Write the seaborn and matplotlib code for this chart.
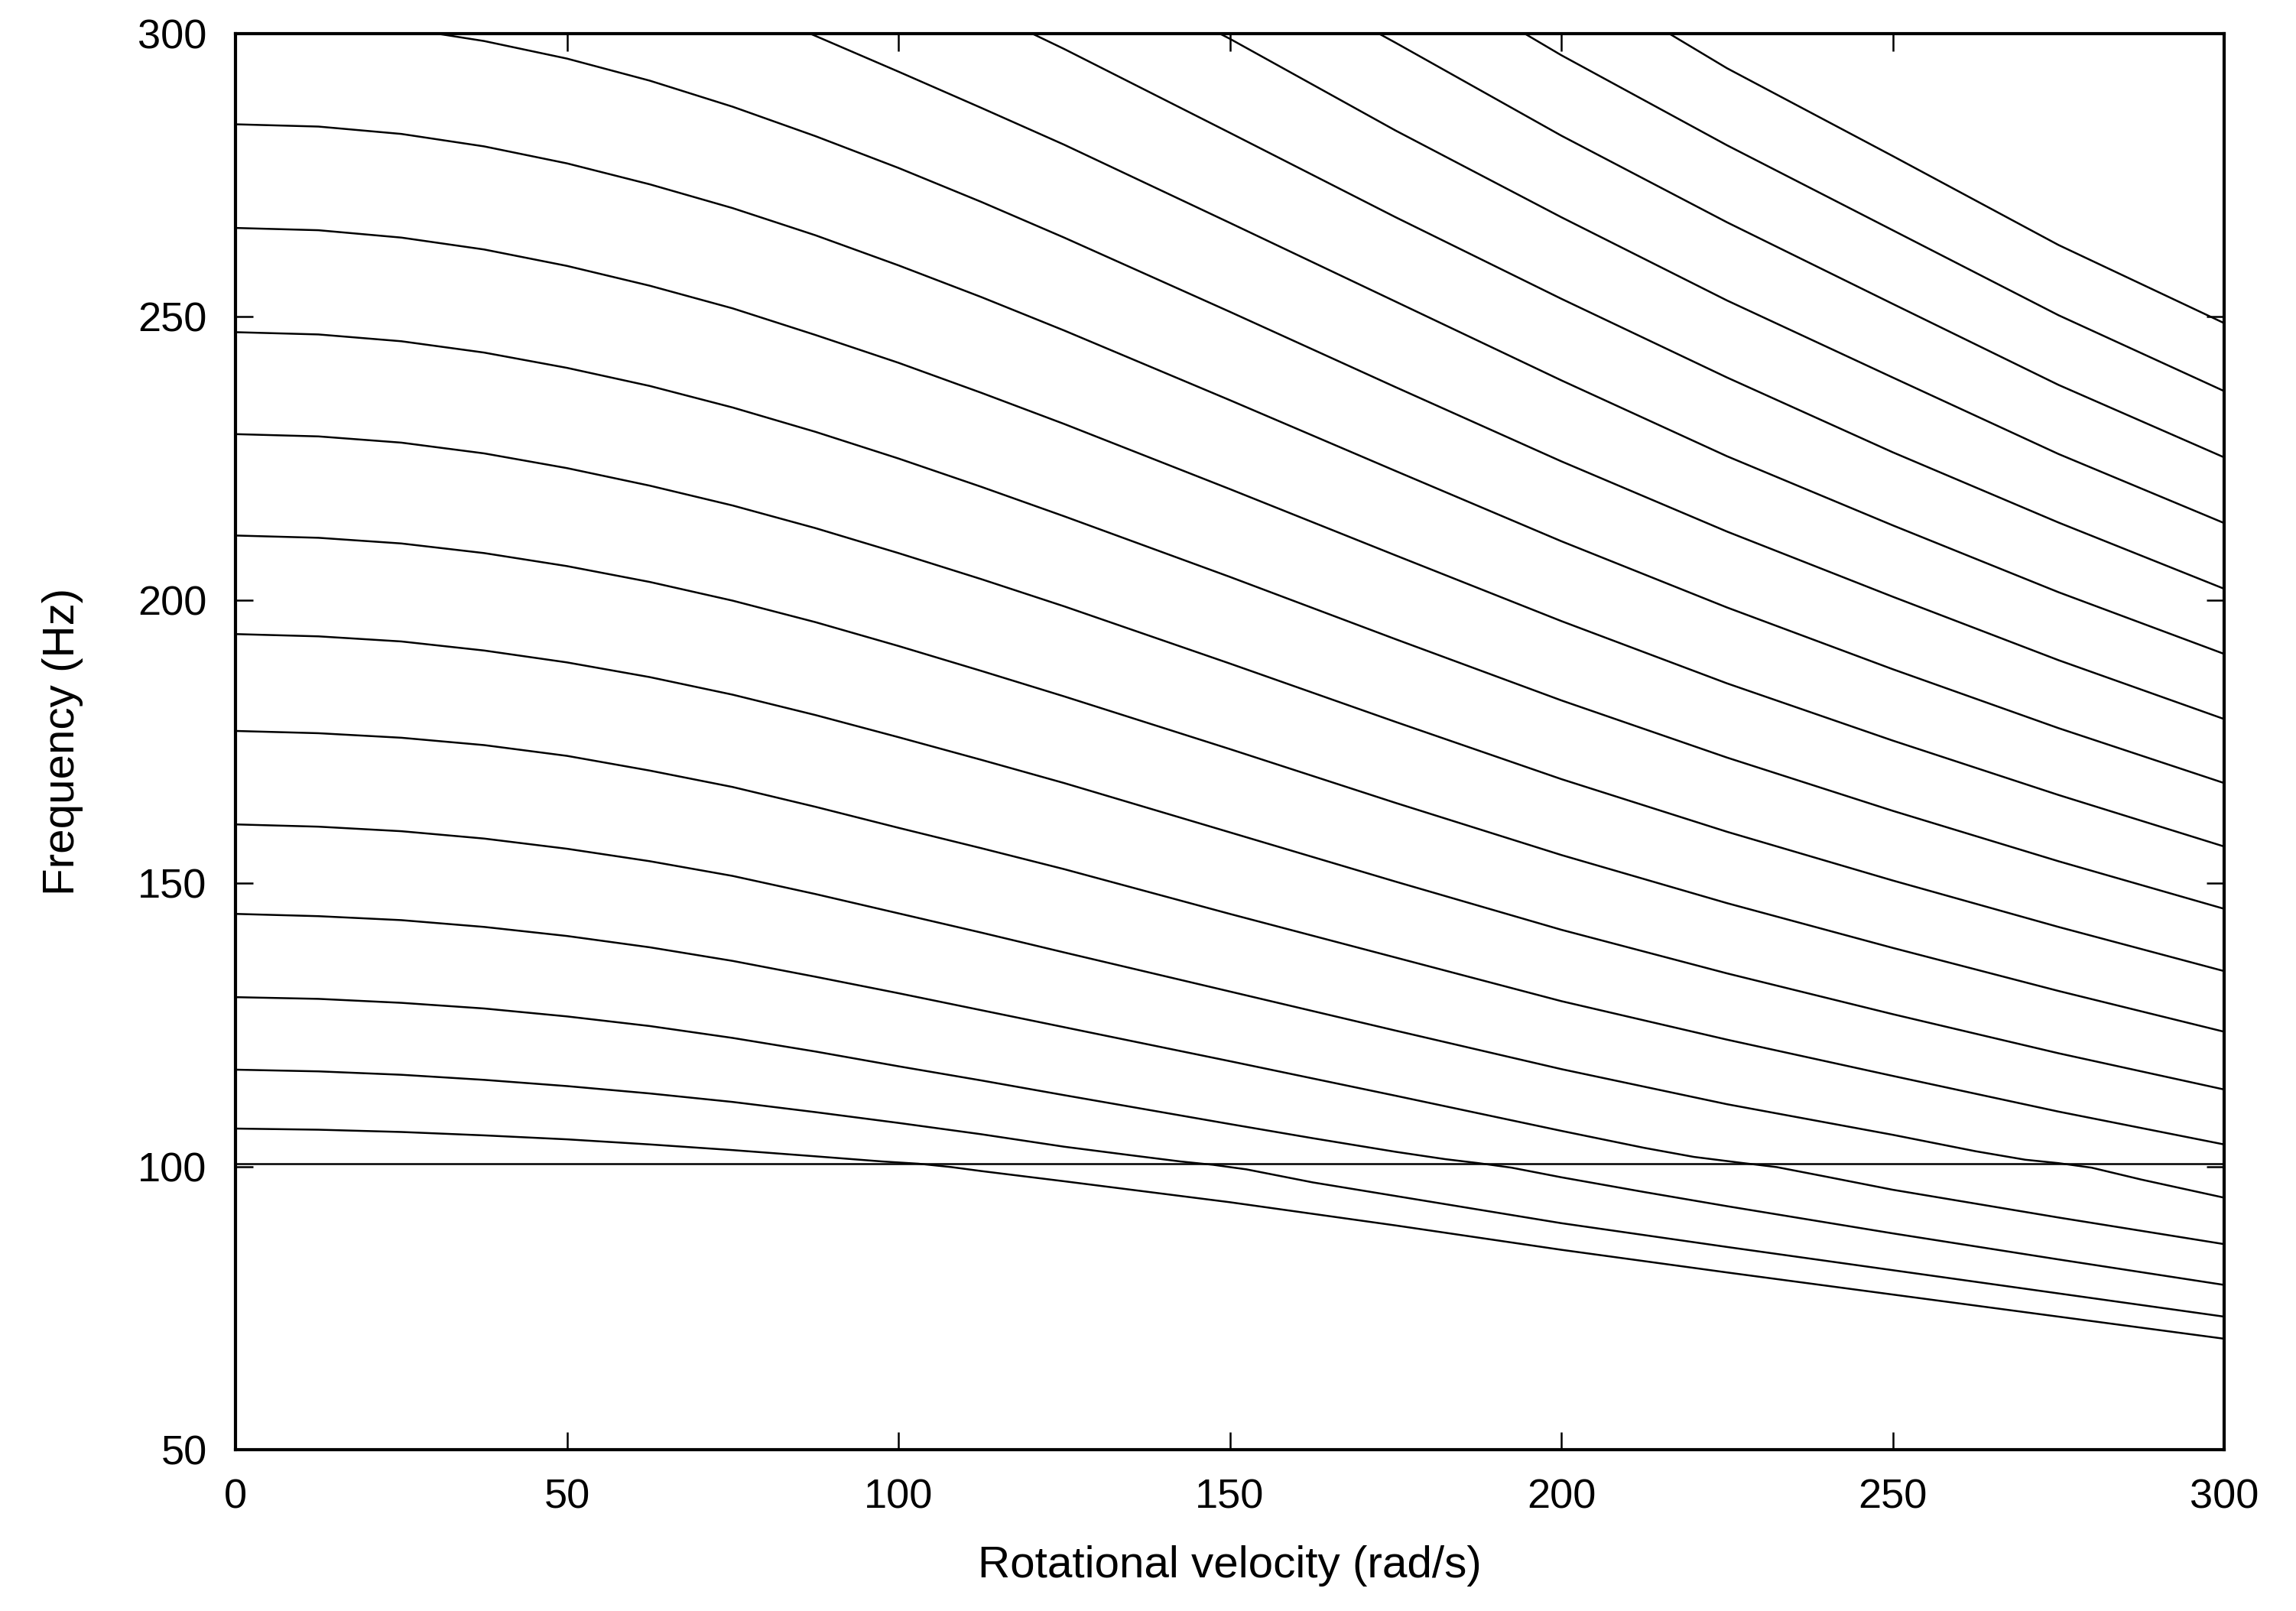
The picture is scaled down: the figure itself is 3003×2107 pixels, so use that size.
import pandas as pd
import seaborn as sns
import matplotlib.pyplot as plt

# Rotational velocity grid (rad/s) shared by the smooth modes
omega = [0, 12.5, 25, 37.5, 50, 62.5, 75, 87.5, 100, 112.5, 125,
         150, 175, 200, 225, 250, 275, 300]

# Stationary mode (flat line)
flat_x = [0, 300]
flat_f = [100.5, 100.5]

# Modes that cross the flat line (extra points near the crossing)
mode_a_x = [0, 12.5, 25, 37.5, 50, 62.5, 75, 87.5, 97.5, 103, 108, 112.5,
            125, 150, 175, 200, 225, 250, 275, 300]
mode_a_f = [106.7, 106.5, 106.1, 105.5, 104.8, 103.9, 102.9, 101.8, 100.9, 100.5, 99.9, 99.2,
            97.4, 93.7, 89.6, 85.3, 81.3, 77.4, 73.5, 69.6]
mode_b_x = [0, 12.5, 25, 37.5, 50, 62.5, 75, 87.5, 100, 112.5, 125, 135, 142.5,
            147.5, 152.5, 162.5, 175, 200, 225, 250, 275, 300]
mode_b_f = [117.1, 116.8, 116.2, 115.3, 114.2, 112.9, 111.4, 109.6, 107.7, 105.7, 103.5, 102.0, 100.9,
            100.3, 99.5, 97.2, 94.8, 90.0, 85.8, 81.7, 77.6, 73.5]
mode_c_x = [0, 12.5, 25, 37.5, 50, 62.5, 75, 87.5, 100, 112.5, 125, 150, 162.5,
            175, 182.5, 187.5, 192.5, 200, 212.5, 225, 250, 275, 300]
mode_c_f = [129.9, 129.6, 128.9, 127.9, 126.5, 124.8, 122.7, 120.3, 117.7, 115.2, 112.6, 107.5, 105.0,
            102.6, 101.3, 100.6, 99.8, 98.1, 95.5, 93.0, 88.2, 83.6, 79.1]
mode_d_x = [0, 12.5, 25, 37.5, 50, 62.5, 75, 87.5, 100, 112.5, 125, 150, 175,
            200, 212.5, 220, 227.5, 232.5, 240, 250, 275, 300]
mode_d_f = [144.6, 144.2, 143.5, 142.3, 140.7, 138.7, 136.3, 133.5, 130.6, 127.6, 124.6, 118.6, 112.5,
            106.3, 103.3, 101.7, 100.6, 99.9, 98.2, 95.9, 91.0, 86.3]
mode_e_x = [0, 12.5, 25, 37.5, 50, 62.5, 75, 87.5, 100, 112.5, 125, 150, 175,
            200, 225, 250, 262.5, 270, 275, 280, 287.5, 300]
mode_e_f = [160.4, 160.0, 159.2, 157.9, 156.1, 153.9, 151.3, 148.1, 144.7, 141.3, 137.8, 130.9, 124.0,
            117.2, 111.0, 105.6, 102.7, 101.2, 100.6, 99.8, 97.7, 94.5]

# Modes on the common grid
mode_f = [176.9, 176.5, 175.7, 174.4, 172.5, 169.9, 167.0, 163.5, 159.8, 156.2, 152.5,
          144.6, 136.9, 129.2, 122.4, 116.0, 109.7, 103.9]
mode_g = [194.0, 193.6, 192.7, 191.1, 189.0, 186.4, 183.3, 179.7, 175.8, 171.8, 167.7,
          159.0, 150.3, 141.8, 134.1, 126.9, 120.0, 113.6]
mode_h = [211.4, 211.0, 210.0, 208.3, 206.0, 203.2, 199.9, 196.1, 191.9, 187.5, 183.0,
          173.7, 164.2, 155.0, 146.5, 138.6, 131.0, 123.8]
mode_i = [229.3, 228.9, 227.8, 225.9, 223.3, 220.2, 216.7, 212.7, 208.3, 203.7, 198.9,
          188.8, 178.5, 168.4, 159.1, 150.5, 142.3, 134.5]
mode_j = [247.3, 246.9, 245.7, 243.7, 241.0, 237.8, 234.0, 229.7, 225.0, 220.0, 214.8,
          204.1, 193.1, 182.3, 172.2, 162.8, 153.9, 145.5]
mode_k = [265.7, 265.3, 264.0, 261.9, 259.0, 255.5, 251.5, 246.8, 241.9, 236.6, 231.1,
          219.6, 207.9, 196.3, 185.3, 175.2, 165.6, 156.5]
mode_l = [284.0, 283.6, 282.3, 280.1, 277.1, 273.4, 269.2, 264.4, 259.1, 253.5, 247.6,
          235.3, 222.8, 210.4, 198.7, 187.8, 177.4, 167.7]
mode_m = [302.8, 302.4, 301.0, 298.7, 295.6, 291.7, 287.1, 281.9, 276.3, 270.3, 264.0,
          250.9, 237.6, 224.5, 212.1, 200.6, 189.4, 179.0]

# Modes entering from the top of the plot
mode_n_x = [86.7, 100, 112.5, 125, 150, 175, 200, 225, 250, 275, 300]
mode_n_f = [300.0, 293.3, 286.9, 280.4, 266.6, 252.7, 238.8, 225.4, 213.2, 201.4, 190.5]
mode_o_x = [120.2, 125, 150, 175, 200, 225, 250, 275, 300]
mode_o_f = [300.0, 297.3, 282.5, 267.6, 253.2, 239.3, 226.1, 213.7, 202.0]
mode_p_x = [148.5, 150, 175, 200, 225, 250, 275, 300]
mode_p_f = [300.0, 299.1, 282.9, 267.6, 252.9, 239.3, 225.8, 213.6]
mode_q_x = [172.5, 175, 200, 225, 250, 275, 300]
mode_q_f = [300.0, 298.4, 282.0, 266.7, 252.3, 238.0, 225.2]
mode_r_x = [194.5, 200, 225, 250, 275, 300]
mode_r_f = [300.0, 296.2, 280.3, 265.3, 250.3, 236.9]
mode_s_x = [216.3, 225, 250, 275, 300]
mode_s_f = [300.0, 293.9, 278.4, 262.7, 248.9]

series = [
    ('flat', flat_x, flat_f),
    ('a', mode_a_x, mode_a_f), ('b', mode_b_x, mode_b_f),
    ('c', mode_c_x, mode_c_f), ('d', mode_d_x, mode_d_f),
    ('e', mode_e_x, mode_e_f),
    ('f', omega, mode_f), ('g', omega, mode_g), ('h', omega, mode_h),
    ('i', omega, mode_i), ('j', omega, mode_j), ('k', omega, mode_k),
    ('l', omega, mode_l), ('m', omega, mode_m),
    ('n', mode_n_x, mode_n_f), ('o', mode_o_x, mode_o_f),
    ('p', mode_p_x, mode_p_f), ('q', mode_q_x, mode_q_f),
    ('r', mode_r_x, mode_r_f), ('s', mode_s_x, mode_s_f),
]
df = pd.concat([pd.DataFrame({'mode': name, 'omega': x, 'freq': f})
                for name, x, f in series], ignore_index=True)

sns.set_theme(style="ticks")
plt.rcParams['font.family'] = ['Liberation Sans', 'DejaVu Sans']
plt.rcParams['axes.labelcolor'] = 'black'
plt.rcParams['text.color'] = 'black'

fig = plt.figure(figsize=(3003 / 300, 2107 / 300), dpi=300)
ax = fig.add_axes([0.1026, 0.1001, 0.8661, 0.879])

sns.lineplot(data=df, x='omega', y='freq', units='mode', estimator=None,
             color='black', linewidth=0.6, ax=ax)

ax.set_xlim(0, 300)
ax.set_ylim(50, 300)
ax.set_xticks(range(0, 301, 50))
ax.set_yticks(range(50, 301, 50))
ax.tick_params(direction='in', top=True, right=True, length=5.5, width=0.6,
               labelsize=13, pad=9, colors='black')
for s in ax.spines.values():
    s.set_linewidth(1.0)
    s.set_color('black')

ax.set_xlabel('Rotational velocity (rad/s)', fontsize=14, labelpad=9, color='black')
ax.set_ylabel('Frequency (Hz)', fontsize=14, labelpad=17, color='black')

fig.savefig('out.png', dpi=300)
